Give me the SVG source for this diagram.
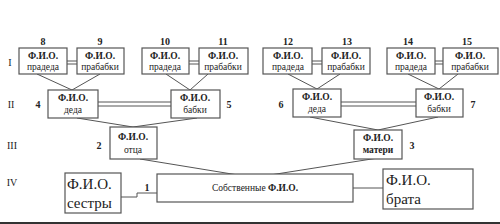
<svg xmlns="http://www.w3.org/2000/svg" width="500" height="224" viewBox="0 0 500 224">
<style>
.box{fill:#fff;stroke:#555;stroke-width:1.2}
.ln{fill:none;stroke:#555;stroke-width:1}
.t{font-family:"Liberation Serif","DejaVu Serif",serif;font-size:9.5px;fill:#222;text-anchor:middle}
.b{font-weight:bold}
.n{font-family:"Liberation Serif","DejaVu Serif",serif;font-size:10px;fill:#222;text-anchor:middle;font-weight:bold}
.r{font-family:"Liberation Serif","DejaVu Serif",serif;font-size:10px;fill:#222;text-anchor:middle}
.big{font-family:"Liberation Serif","DejaVu Serif",serif;font-size:15px;fill:#222}
</style>
<rect width="500" height="224" fill="#fff"/>
<g id="connectors">
<path class="ln" d="M67 61H77M67 64H77"/>
<path class="ln" d="M189 61H199M189 64H199"/>
<path class="ln" d="M312 61H322M312 64H322"/>
<path class="ln" d="M435 61H443M435 64H443"/>
<path class="ln" d="M37 74L72 90L100 74"/>
<path class="ln" d="M166 74L190 90L208 74"/>
<path class="ln" d="M288 74L317 89L340 74"/>
<path class="ln" d="M408 74L439 89L458 74"/>
<path class="ln" d="M98 102H171M98 106H171"/>
<path class="ln" d="M341 102H416M341 106H416"/>
<path class="ln" d="M77 118L133 127L197 118"/>
<path class="ln" d="M310 117L378 130L438 117"/>
<path class="ln" d="M140 159L238 175"/>
<path class="ln" d="M378 158L270 175"/>
<path class="ln" d="M121 197H137V193H157"/>
<path class="ln" d="M353 188H383"/>
</g>
<g id="levels">
<text class="r" x="10" y="66">I</text>
<text class="r" x="11" y="108">II</text>
<text class="r" x="12" y="149">III</text>
<text class="r" x="12" y="186">IV</text>
</g>
<g id="n8"><text class="n" x="43" y="45">8</text><rect class="box" x="19" y="48" width="48" height="26"/><text class="t b" x="43" y="59">Ф.И.О.</text><text class="t" x="43" y="70">прадеда</text></g>
<g id="n9"><text class="n" x="100" y="45">9</text><rect class="box" x="77" y="48" width="47" height="26"/><text class="t b" x="100" y="59">Ф.И.О.</text><text class="t" x="100" y="70">прабабки</text></g>
<g id="n10"><text class="n" x="165" y="45">10</text><rect class="box" x="142" y="48" width="47" height="26"/><text class="t b" x="165" y="59">Ф.И.О.</text><text class="t" x="165" y="70">прадеда</text></g>
<g id="n11"><text class="n" x="223" y="45">11</text><rect class="box" x="199" y="48" width="49" height="26"/><text class="t b" x="223" y="59">Ф.И.О.</text><text class="t" x="223" y="70">прабабки</text></g>
<g id="n12"><text class="n" x="288" y="45">12</text><rect class="box" x="263" y="48" width="49" height="26"/><text class="t b" x="288" y="59">Ф.И.О.</text><text class="t" x="288" y="70">прадеда</text></g>
<g id="n13"><text class="n" x="347" y="45">13</text><rect class="box" x="322" y="48" width="48" height="26"/><text class="t b" x="346" y="59">Ф.И.О.</text><text class="t" x="346" y="70">прабабки</text></g>
<g id="n14"><text class="n" x="408" y="45">14</text><rect class="box" x="387" y="48" width="48" height="26"/><text class="t b" x="411" y="59">Ф.И.О.</text><text class="t" x="411" y="70">прадеда</text></g>
<g id="n15"><text class="n" x="467" y="45">15</text><rect class="box" x="443" y="48" width="55" height="26"/><text class="t b" x="470" y="59">Ф.И.О.</text><text class="t" x="470" y="70">прабабки</text></g>
<g id="n4"><text class="n" x="38" y="108">4</text><rect class="box" x="48" y="90" width="50" height="28"/><text class="t b" x="73" y="101">Ф.И.О.</text><text class="t" x="73" y="113">деда</text></g>
<g id="n5"><text class="n" x="229" y="108">5</text><rect class="box" x="171" y="90" width="49" height="28"/><text class="t b" x="195" y="101">Ф.И.О.</text><text class="t" x="195" y="113">бабки</text></g>
<g id="n6"><text class="n" x="281" y="108">6</text><rect class="box" x="293" y="89" width="48" height="28"/><text class="t b" x="317" y="100">Ф.И.О.</text><text class="t" x="317" y="112">деда</text></g>
<g id="n7"><text class="n" x="473" y="108">7</text><rect class="box" x="416" y="89" width="47" height="28"/><text class="t b" x="439" y="100">Ф.И.О.</text><text class="t" x="439" y="112">бабки</text></g>
<g id="n2"><text class="n" x="99" y="149">2</text><rect class="box" x="110" y="127" width="47" height="32"/><text class="t b" x="133" y="140">Ф.И.О.</text><text class="t" x="133" y="153">отца</text></g>
<g id="n3"><text class="n" x="412" y="149">3</text><rect class="box" x="354" y="130" width="48" height="29"/><text class="t b" x="378" y="141">Ф.И.О.</text><text class="t b" x="378" y="153">матери</text></g>
<g id="n1"><text class="n" x="147" y="191">1</text><rect class="box" x="157" y="174" width="196" height="28"/><text class="t" x="255" y="191">Собственные <tspan class="b">Ф.И.О.</tspan></text></g>
<g id="sister"><rect class="box" x="65" y="173" width="56" height="40"/><text class="big" x="67" y="189">Ф.И.О.</text><text class="big" x="67" y="208">сестры</text></g>
<g id="brother"><rect class="box" x="383" y="169" width="90" height="40"/><text class="big" x="386" y="185">Ф.И.О.</text><text class="big" x="386" y="204">брата</text></g>
<rect x="0" y="222" width="500" height="2" fill="#333"/>
</svg>
